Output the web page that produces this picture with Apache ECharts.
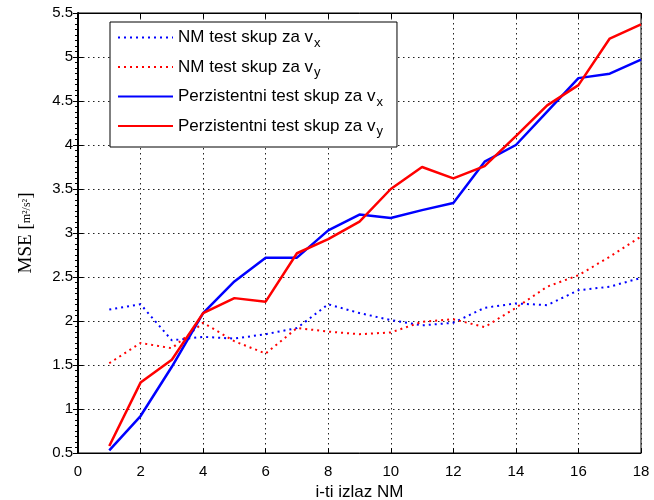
<!DOCTYPE html>
<html>
<head>
<meta charset="utf-8">
<script src="https://cdn.jsdelivr.net/npm/echarts@6/dist/echarts.min.js"></script>
<style>
  html, body { margin: 0; padding: 0; background: #fff; }
  #chart { width: 654px; height: 500px; }
</style>
</head>
<body>
<div id="chart"></div>
<script>
// izlazi NM (x os)
var izlazi = [1,2,3,4,5,6,7,8,9,10,11,12,13,14,15,16,17,18];

// NM test skup
var nmVx = [2.13,2.19,1.78,1.82,1.80,1.85,1.92,2.19,2.09,2.01,1.95,1.98,2.15,2.20,2.18,2.35,2.39,2.49];
var nmVy = [1.52,1.75,1.69,1.98,1.77,1.63,1.92,1.88,1.85,1.87,1.99,2.02,1.93,2.15,2.39,2.52,2.73,2.96];

// Perzistentni test skup
var perVx = [0.53,0.92,1.48,2.09,2.45,2.72,2.72,3.03,3.21,3.17,3.26,3.34,3.81,4.00,4.38,4.76,4.81,4.97];
var perVy = [0.58,1.30,1.56,2.09,2.26,2.22,2.77,2.93,3.13,3.50,3.75,3.62,3.76,4.10,4.45,4.68,5.21,5.37];

var xTicks = [0,2,4,6,8,10,12,14,16,18];
var yTicks = [0.5,1,1.5,2,2.5,3,3.5,4,4.5,5,5.5];

var imena = ['NM test skup za vx','NM test skup za vy','Perzistentni test skup za vx','Perzistentni test skup za vy'];
var legendaTekst = {
  'NM test skup za vx': 'NM test skup za v{sub|x}',
  'NM test skup za vy': 'NM test skup za v{sub|y}',
  'Perzistentni test skup za vx': 'Perzistentni test skup za v{sub|x}',
  'Perzistentni test skup za vy': 'Perzistentni test skup za v{sub|y}'
};

function parovi(arr){
  return arr.map(function(v, i){ return [izlazi[i], v]; });
}

var chart = echarts.init(document.getElementById('chart'));

var gridDots = { color: '#222', width: 1, type: [1.5, 3.5] };
var fontTick = 'Liberation Sans, Arial, sans-serif';

chart.setOption({
  animation: false,
  backgroundColor: '#fff',
  grid: {
    left: 78, right: 13, top: 13, bottom: 47,
    outerBoundsMode: 'none',
    containLabel: false,
    show: true, borderColor: '#000', borderWidth: 1
  },
  legend: {
    data: imena,
    orient: 'vertical',
    left: 110, top: 22,
    padding: [7, 14, 9, 7],
    itemWidth: 55, itemHeight: 14, itemGap: 9,
    backgroundColor: '#fff',
    borderColor: '#000', borderWidth: 1, borderRadius: 0,
    itemStyle: { opacity: 0 },
    formatter: function(name){ return legendaTekst[name]; },
    textStyle: {
      color: '#000', fontSize: 17, fontFamily: fontTick,
      rich: {
        sub: { fontSize: 13, fontFamily: fontTick, color: '#000', padding: [11, 0, 0, 1] }
      }
    }
  },
  xAxis: [
    {
      type: 'value', min: 0, max: 18, interval: 2,
      name: 'i-ti izlaz NM', nameLocation: 'middle', nameGap: 27,
      nameTextStyle: { color: '#000', fontSize: 17, fontFamily: fontTick },
      axisLine: { show: true, lineStyle: { color: '#000', width: 1 } },
      axisTick: { show: true, inside: true, length: 5, lineStyle: { color: '#000' } },
      axisLabel: { color: '#000', fontSize: 15, fontFamily: fontTick, margin: 11 },
      splitLine: { show: true, lineStyle: gridDots }
    },
    {
      type: 'value', min: 0, max: 18, interval: 2, position: 'top',
      axisLine: { show: true, lineStyle: { color: '#000' } },
      axisTick: { show: true, inside: true, length: 5, lineStyle: { color: '#000' } },
      axisLabel: { show: false },
      splitLine: { show: false }
    }
  ],
  yAxis: [
    {
      type: 'value', min: 0.5, max: 5.5, interval: 0.5,
      name: 'MSE [{f|m²/s²}]', nameLocation: 'middle', nameGap: 42,
      nameTextStyle: {
        color: '#000', fontSize: 19, fontFamily: 'Liberation Serif, Times New Roman, serif',
        rich: { f: { fontSize: 12, fontFamily: 'Liberation Serif, serif', color: '#000' } }
      },
      axisLine: { show: true, lineStyle: { color: '#000', width: 1 } },
      axisTick: { show: true, inside: true, length: 5, lineStyle: { color: '#000' } },
      axisLabel: { color: '#000', fontSize: 15, fontFamily: fontTick, margin: 5 },
      splitLine: { show: true, lineStyle: gridDots }
    },
    {
      type: 'value', min: 0.5, max: 5.5, interval: 0.5, position: 'right',
      axisLine: { show: true, lineStyle: { color: '#000', width: 2 } },
      axisTick: { show: true, inside: true, length: 5, lineStyle: { color: '#000' } },
      minorTick: { show: true, splitNumber: 8, length: 3, lineStyle: { color: '#000' } },
      axisLabel: { show: false },
      splitLine: { show: false }
    }
  ],
  series: [
    {
      name: imena[0], type: 'line', symbol: 'none', data: parovi(nmVx),
      itemStyle: { color: '#0000ff' },
      lineStyle: { color: '#0000ff', width: 2, type: [2, 4] }
    },
    {
      name: imena[1], type: 'line', symbol: 'none', data: parovi(nmVy),
      itemStyle: { color: '#ff0000' },
      lineStyle: { color: '#ff0000', width: 2, type: [2, 4] }
    },
    {
      name: imena[2], type: 'line', symbol: 'none', data: parovi(perVx),
      itemStyle: { color: '#0000ff' },
      lineStyle: { color: '#0000ff', width: 2.5 }
    },
    {
      name: imena[3], type: 'line', symbol: 'none', data: parovi(perVy),
      itemStyle: { color: '#ff0000' },
      lineStyle: { color: '#ff0000', width: 2.5 }
    }
  ]
});
</script>
</body>
</html>
